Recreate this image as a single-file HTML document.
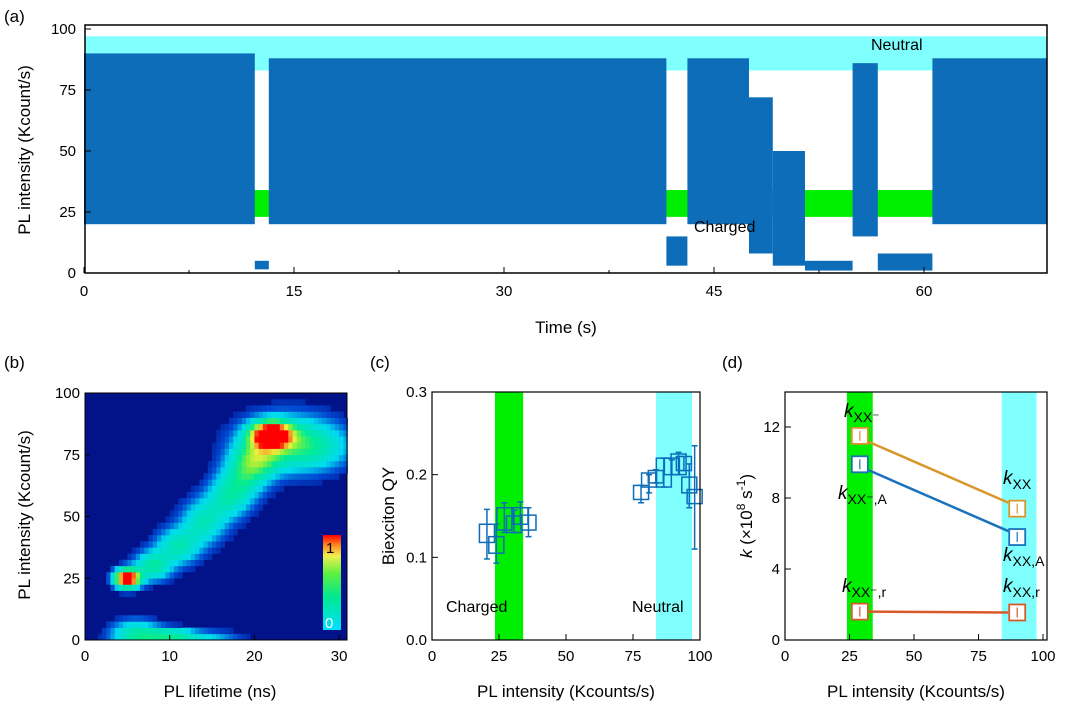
<!DOCTYPE html>
<html><head><meta charset="utf-8"><style>
body{margin:0;background:#fff;}
svg{display:block;font-family:"Liberation Sans",Arial,sans-serif;}
</style></head><body>
<svg id="fig" width="1080" height="719" viewBox="0 0 1080 719"></svg>
<script>
// ---------- Panel (a) data ----------
const traceSegStart=[0,12.2,13.2,41.6,43.1,47.5,49.2,51.5,54.9,56.7,60.6];
const traceSegEnd=[12.2,13.2,41.6,43.1,47.5,49.2,51.5,54.9,56.7,60.6,68.8];
const traceSegLow=[20,1.5,20,3,20,8,3,1,15,1,20];
const traceSegHigh=[90,5,88,15,88,72,50,5,86,8,88];
const aXTicks=[0,15,30,45,60];
const aYTicks=[0,25,50,75,100];
// ---------- Panel (b) data (clusters of the lifetime-intensity histogram) ----------
const blobLifetime=[22,5,24,8,11,14,17,19,20.5,6,10,14,27];
const blobIntensity=[83,25,80,30,38,48,58,67,74,2,2,1,78];
const blobAmp=[1.25,1.25,0.35,0.4,0.35,0.33,0.33,0.33,0.38,0.4,0.35,0.2,0.2];
const blobSx=[1.6,1.0,4,1.5,1.8,1.8,1.8,1.8,1.8,2,2,3,3];
const blobSy=[3.5,2.5,8,4,5,6,6,6,5,4,2,2,6];
const bXTicks=[0,10,20,30];
const bYTicks=[0,25,50,75,100];
// ---------- Panel (c) data ----------
const qyCenter=[20.5,24,27,30.6,33,36,78,81,83.5,86.5,89.5,92,94,96,98];
const qyBoxLo=[0.118,0.105,0.133,0.130,0.140,0.133,0.170,0.185,0.190,0.185,0.200,0.200,0.205,0.178,0.165];
const qyBoxHi=[0.140,0.125,0.160,0.150,0.160,0.151,0.187,0.202,0.205,0.220,0.220,0.225,0.222,0.197,0.182];
const qyWhLo=[0.098,0.093,0.130,0.130,0.140,0.125,0.166,0.178,0.190,0.185,0.200,0.200,0.205,0.160,0.110];
const qyWhHi=[0.158,0.140,0.166,0.157,0.167,0.160,0.187,0.200,0.206,0.220,0.218,0.227,0.222,0.213,0.235];
const cXTicks=[0,25,50,75,100];
const cYTicks=[0,0.1,0.2,0.3];
// ---------- Panel (d) data ----------
const kX=[29,90];
const kOrange=[11.5,7.4];
const kBlue=[9.9,5.8];
const kRed=[1.6,1.55];
const dXTicks=[0,25,50,75,100];
const dYTicks=[0,4,8,12];

const NS="http://www.w3.org/2000/svg";
const svg=document.getElementById('fig');
function el(tag,attrs,parent){const e=document.createElementNS(NS,tag);for(const k in attrs)e.setAttribute(k,attrs[k]);(parent||svg).appendChild(e);return e;}
function txt(s,attrs,parent){const e=el('text',attrs,parent);e.textContent=s;return e;}

const BLUE='#0d6db8';
// ===== Panel (a) =====
const ax=t=>84+14*t, ay=v=>273-2.44*v;
const ga=el('g',{});


let r=el('rect',{x:85,y:ay(97),width:962,height:ay(83)-ay(97),fill:'#80ffff'},ga);

r=el('rect',{x:85,y:ay(34),width:962,height:ay(23)-ay(34),fill:'#00ee00'},ga);

for(let i=0;i<traceSegStart.length;i++){
  const s=el('rect',{x:ax(traceSegStart[i]),y:ay(traceSegHigh[i]),width:ax(traceSegEnd[i])-ax(traceSegStart[i]),height:ay(traceSegLow[i])-ay(traceSegHigh[i]),fill:BLUE},ga);
  
  
}
el('rect',{x:85,y:25,width:962,height:248,fill:'none',stroke:'#000','stroke-width':1.5},ga);
aXTicks.forEach(t=>{el('line',{x1:ax(t),x2:ax(t),y1:273,y2:267,stroke:'#000'},ga);
  const l=txt(String(t),{x:ax(t),y:296,'font-size':15,'text-anchor':'middle'},ga);
  
  if(t<60){el('line',{x1:ax(t+7.5),x2:ax(t+7.5),y1:273,y2:270,stroke:'#000'},ga);}});
aYTicks.forEach(v=>{el('line',{x1:85,x2:91,y1:ay(v),y2:ay(v),stroke:'#000'},ga);
  const l=txt(String(v),{x:76,y:ay(v)+5,'font-size':15,'text-anchor':'end'},ga);
  });
let t1=txt('Time (s)',{x:566,y:333,'font-size':17,'text-anchor':'middle'},ga);

t1=txt('PL intensity (Kcount/s)',{x:0,y:0,'font-size':17,'text-anchor':'middle',transform:'translate(30,150) rotate(-90)'},ga);

t1=txt('Neutral',{x:871,y:50,'font-size':16},ga);
t1=txt('Charged',{x:694,y:232,'font-size':16},ga);
t1=txt('(a)',{x:4,y:22,'font-size':17},ga);

// ===== Panel (b) =====
const bx=t=>85+8.47*t, by=v=>640-2.47*v;
const gb=el('g',{});


el('rect',{x:85,y:393,width:262,height:247,fill:'#02138a'},gb);
function jet(v){
  const stops=[[0,[2,19,138]],[0.08,[0,70,210]],[0.2,[0,220,240]],[0.45,[0,235,150]],[0.6,[120,240,60]],[0.75,[240,240,60]],[0.9,[250,120,30]],[1,[255,0,0]]];
  if(v>=1)return 'rgb(255,0,0)';
  for(let i=1;i<stops.length;i++){if(v<=stops[i][0]){const a=stops[i-1],b=stops[i],f=(v-a[0])/(b[0]-a[0]);
    return 'rgb('+a[1].map((c,j)=>Math.round(c+(b[1][j]-c)*f)).join(',')+')';}}
}
const cw=0.5, ch=2.5;
for(let lt=0;lt<31;lt+=cw){for(let it=0;it<100;it+=ch){
  let v=0;const cxv=lt+cw/2, cyv=it+ch/2;
  for(let k=0;k<blobLifetime.length;k++){const dx=(cxv-blobLifetime[k])/blobSx[k],dy=(cyv-blobIntensity[k])/blobSy[k];v+=blobAmp[k]*Math.exp(-0.5*(dx*dx+dy*dy));}
  if(v<0.04)continue;
  const c=el('rect',{x:bx(lt),y:by(it+ch),width:bx(cw)-bx(0)+0.3,height:by(0)-by(ch)+0.3,fill:jet(v)},gb);
  
  
}}
const defs=el('defs',{});
const lg=el('linearGradient',{id:'cb',x1:0,y1:1,x2:0,y2:0},defs);
[[0,'#00e0ff'],[0.35,'#00e890'],[0.6,'#60f040'],[0.78,'#f0f050'],[0.9,'#ff8020'],[1,'#ff0000']].forEach(s=>el('stop',{offset:s[0],'stop-color':s[1]},lg));
r=el('rect',{x:323,y:535,width:18,height:95,fill:'url(#cb)'},gb);
txt('1',{x:326,y:553,'font-size':15},gb);txt('0',{x:325,y:628,'font-size':15,fill:'#fff'},gb);
el('rect',{x:85,y:393,width:262,height:247,fill:'none',stroke:'#000','stroke-width':1},gb);
bXTicks.forEach(t=>{el('line',{x1:bx(t),x2:bx(t),y1:640,y2:635,stroke:'#000'},gb);
  const l=txt(String(t),{x:bx(t),y:661,'font-size':15,'text-anchor':'middle'},gb);});
bYTicks.forEach(v=>{el('line',{x1:85,x2:90,y1:by(v),y2:by(v),stroke:'#000'},gb);
  const l=txt(String(v),{x:80,y:by(v)+5,'font-size':15,'text-anchor':'end'},gb);});
t1=txt('PL lifetime (ns)',{x:220,y:697,'font-size':17,'text-anchor':'middle'},gb);
t1=txt('PL intensity (Kcount/s)',{x:0,y:0,'font-size':17,'text-anchor':'middle',transform:'translate(30,515) rotate(-90)'},gb);
t1=txt('(b)',{x:4,y:368,'font-size':17},gb);

// ===== Panel (c) =====
const cx=v=>432+2.68*v, cy=v=>640-826.7*v;
const gc=el('g',{});


el('rect',{x:cx(23.5),y:392,width:cx(34)-cx(23.5),height:248,fill:'#00ee00'},gc);
el('rect',{x:cx(83.6),y:392,width:cx(97)-cx(83.6),height:248,fill:'#80ffff'},gc);
for(let i=0;i<qyCenter.length;i++){
  const g=el('g',{},gc);
  
  
  const x0=cx(qyCenter[i]-2.8), w=cx(qyCenter[i]+2.8)-x0, xm=cx(qyCenter[i]);
  el('line',{x1:xm,x2:xm,y1:cy(qyWhLo[i]),y2:cy(qyWhHi[i]),stroke:BLUE,'stroke-width':1.5},g);
  el('line',{x1:xm-3,x2:xm+3,y1:cy(qyWhLo[i]),y2:cy(qyWhLo[i]),stroke:BLUE,'stroke-width':1.5},g);
  el('line',{x1:xm-3,x2:xm+3,y1:cy(qyWhHi[i]),y2:cy(qyWhHi[i]),stroke:BLUE,'stroke-width':1.5},g);
  el('rect',{x:x0,y:cy(qyBoxHi[i]),width:w,height:cy(qyBoxLo[i])-cy(qyBoxHi[i]),fill:'none',stroke:BLUE,'stroke-width':1.5},g);
}
t1=txt('Charged',{x:446,y:612,'font-size':16},gc);
t1=txt('Neutral',{x:632,y:612,'font-size':16},gc);
el('rect',{x:432,y:392,width:268,height:248,fill:'none',stroke:'#000','stroke-width':1.2},gc);
cXTicks.forEach(t=>{el('line',{x1:cx(t),x2:cx(t),y1:640,y2:634,stroke:'#000'},gc);
  const l=txt(String(t),{x:cx(t),y:661,'font-size':15,'text-anchor':'middle'},gc);});
cYTicks.forEach(v=>{el('line',{x1:432,x2:438,y1:cy(v),y2:cy(v),stroke:'#000'},gc);
  const l=txt(v.toFixed(1),{x:427,y:cy(v)+5,'font-size':15,'text-anchor':'end'},gc);});
t1=txt('PL intensity (Kcounts/s)',{x:566,y:697,'font-size':17,'text-anchor':'middle'},gc);
t1=txt('Biexciton QY',{x:0,y:0,'font-size':17,'text-anchor':'middle',transform:'translate(394,516) rotate(-90)'},gc);
t1=txt('(c)',{x:370,y:368,'font-size':17},gc);

// ===== Panel (d) =====
const dx=v=>785+2.58*v, dy=v=>640-17.75*v;
const gd=el('g',{});


el('rect',{x:dx(24),y:392,width:dx(34)-dx(24),height:248,fill:'#00ee00'},gd);
el('rect',{x:dx(84),y:392,width:dx(97.5)-dx(84),height:248,fill:'#80ffff'},gd);
function kSeries(vals,color,name,slant){
  const g=el('g',{},gd);
  
  
  el('line',{x1:dx(kX[0])+9,y1:dy(vals[0])+slant,x2:dx(kX[1])-9,y2:dy(vals[1])-slant,stroke:color,'stroke-width':2.5},g);
  kX.forEach((x,i)=>{
    el('rect',{x:dx(x)-8,y:dy(vals[i])-8,width:16,height:16,fill:'#fff',stroke:color,'stroke-width':1.8},g);
    el('line',{x1:dx(x),x2:dx(x),y1:dy(vals[i])-5,y2:dy(vals[i])+5,stroke:color,'stroke-width':1.2},g);
  });
}
kSeries(kOrange,'#d9962a','k-xx-series',6);
kSeries(kBlue,'#1a72bd','k-xx-a-series',6);
kSeries(kRed,'#d95a2a','k-xx-r-series',0);
function klabel(x,y,sub,name){const t=el('text',{x:x,y:y,'font-size':19},gd);
  
  const a=el('tspan',{'font-style':'italic'},t);a.textContent='k';
  const b=el('tspan',{'font-size':14,dy:5},t);b.textContent=sub;}
klabel(844,417,'XX\u207B','label-k-xx-minus');
klabel(838,499,'XX\u207B,A','label-k-xx-minus-a');
klabel(1003,484,'XX','label-k-xx');
klabel(1003,561,'XX,A','label-k-xx-a');
klabel(842,592,'XX\u207B,r','label-k-xx-minus-r');
klabel(1003,592,'XX,r','label-k-xx-r');
el('rect',{x:785,y:392,width:262,height:248,fill:'none',stroke:'#000','stroke-width':1.2},gd);
dXTicks.forEach(t=>{el('line',{x1:dx(t),x2:dx(t),y1:640,y2:634,stroke:'#000'},gd);
  const l=txt(String(t),{x:dx(t),y:661,'font-size':15,'text-anchor':'middle'},gd);});
dYTicks.forEach(v=>{el('line',{x1:785,x2:791,y1:dy(v),y2:dy(v),stroke:'#000'},gd);
  const l=txt(String(v),{x:780,y:dy(v)+5,'font-size':15,'text-anchor':'end'},gd);});
t1=txt('PL intensity (Kcounts/s)',{x:916,y:697,'font-size':17,'text-anchor':'middle'},gd);
(function(){const t=el('text',{'font-size':17,'text-anchor':'middle',transform:'translate(752,516) rotate(-90)'},gd);
  
  const a=el('tspan',{'font-style':'italic'},t);a.textContent='k';
  const b=el('tspan',{},t);b.textContent=' (\u00D710';
  const c=el('tspan',{'font-size':12,dy:-7},t);c.textContent='8';
  const d=el('tspan',{dy:7},t);d.textContent=' s';
  const e=el('tspan',{'font-size':12,dy:-7},t);e.textContent='-1';
  const f=el('tspan',{dy:7},t);f.textContent=')';})();
t1=txt('(d)',{x:722,y:368,'font-size':17},gd);
</script>
</body></html>
